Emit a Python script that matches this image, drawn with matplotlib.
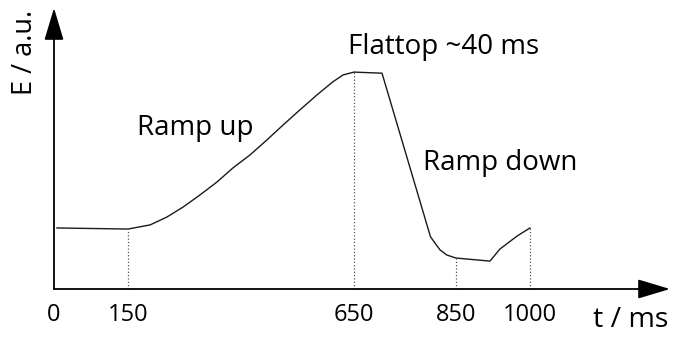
import numpy as np
from matplotlib import pyplot as plt
from matplotlib import rcParams

rcParams['font.family'] = ['Open Sans', 'DejaVu Sans']

# time axis (ms) and field (a.u.)
t_ms = [6, 150, 199, 236, 272, 309, 347, 382, 420, 457, 493, 530, 568, 603,
        626, 650, 705, 800, 810, 819, 832, 850, 919, 939, 974, 1000]
energy = [0.280, 0.275, 0.294, 0.330, 0.376, 0.431, 0.491, 0.555, 0.615,
          0.683, 0.752, 0.821, 0.890, 0.950, 0.982, 0.995, 0.990, 0.240,
          0.207, 0.179, 0.156, 0.142, 0.128, 0.183, 0.243, 0.280]

tick_ms = [0, 150, 650, 850, 1000]
tick_labels = ['0', '150', '650', '850', '1000']
drop_ms = [150, 650, 850, 1000]
drop_E = [0.275, 0.995, 0.142, 0.280]

phases = ['Ramp up', 'Flattop ~40 ms', 'Ramp down']
phase_t = [298, 826, 939]
phase_E = [0.739, 1.11, 0.578]

# the sketch is not drawn to scale: piecewise mapping of ms to drawn length
scale_ms = [-100, 0, 150, 650, 850, 1000, 1400]
scale_px = [-49.3, 0, 74, 300, 402, 476, 673.3]


def fwd(x):
    return np.interp(x, scale_ms, scale_px)


def inv(x):
    return np.interp(x, scale_px, scale_ms)


fig = plt.figure(figsize=(6.73, 3.38), dpi=100)
ax = fig.add_axes([54 / 673, 49 / 338, 616 / 673, 281 / 338])
ax.set_xscale('function', functions=(fwd, inv))
ax.set_xlim(0, 1284)
ax.set_ylim(0, 1.289)
for s in ax.spines.values():
    s.set_visible(False)

ax.plot(t_ms, energy, color='#1a1a1a', lw=1.0)
ax.vlines(drop_ms, 0, drop_E, colors='#555555', linestyles=':', lw=0.9)

arrow = dict(arrowstyle='-|>,head_length=0.4,head_width=0.12',
             mutation_scale=50, lw=1.3, color='black',
             shrinkA=0, shrinkB=0)
ax.annotate('', xy=(1284, 0), xytext=(0, 0), arrowprops=arrow,
            annotation_clip=False)
ax.annotate('', xy=(0, 1.289), xytext=(0, 0), arrowprops=arrow,
            annotation_clip=False)

ax.set_xticks(tick_ms, tick_labels)
ax.set_yticks([])
ax.tick_params(axis='x', length=0, pad=10, labelsize=17)

for lab, x, y in zip(phases, phase_t, phase_E):
    ax.text(x, y, lab, fontsize=20, ha='center', va='center')

fig.text(631 / 673, 1 - 320 / 338, 't / ms', fontsize=20.5,
         ha='center', va='center')
fig.text(25 / 673, 1 - 52 / 338, 'E / a.u.', fontsize=19.5,
         ha='center', va='center', rotation=90)

fig.savefig('out.png', dpi=100)
